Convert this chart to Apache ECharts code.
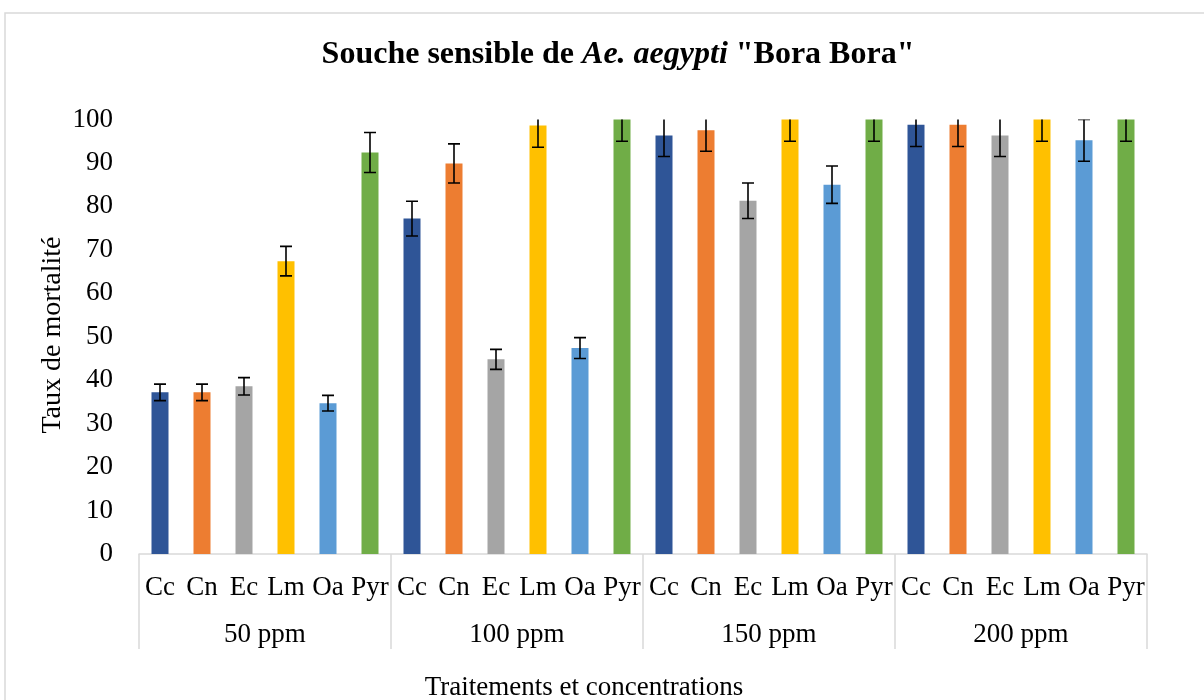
<!DOCTYPE html>
<html>
<head>
<meta charset="utf-8">
<script src="https://cdn.jsdelivr.net/npm/echarts@6/dist/echarts.min.js"></script>
<style>html,body{margin:0;padding:0;background:#fff}#chart{width:1204px;height:700px}</style>
</head>
<body>
<div id="chart"></div>
<script>
var treatments = ['Cc', 'Cn', 'Ec', 'Lm', 'Oa', 'Pyr'];
var concentrations = ['50 ppm', '100 ppm', '150 ppm', '200 ppm'];
var yTicks = [0, 10, 20, 30, 40, 50, 60, 70, 80, 90, 100];
// mean mortality per treatment across the 4 concentrations
var valCc  = [37.2, 77.2, 96.3, 98.8];
var valCn  = [37.2, 89.9, 97.5, 98.8];
var valEc  = [38.6, 44.8, 81.3, 96.3];
var valLm  = [67.4, 98.6, 100, 100];
var valOa  = [34.7, 47.4, 85.0, 95.2];
var valPyr = [92.4, 100, 100, 100];
// error (± value)
var errCc  = [1.9, 4.0, 4.8, 5.0];
var errCn  = [1.9, 4.5, 4.8, 5.0];
var errEc  = [2.0, 2.3, 4.1, 4.8];
var errLm  = [3.4, 5.0, 5.0, 5.0];
var errOa  = [1.8, 2.4, 4.3, 4.8];
var errPyr = [4.6, 5.0, 5.0, 5.0];

var colors = ['#2F5597', '#ED7D31', '#A5A5A5', '#FFC000', '#5B9BD5', '#70AD47'];
var vals = [valCc, valCn, valEc, valLm, valOa, valPyr];
var errs = [errCc, errCn, errEc, errLm, errOa, errPyr];

var cats = [], barData = [], errData = [];
concentrations.forEach(function (c, ci) {
  treatments.forEach(function (t, ti) {
    var idx = cats.length;
    cats.push(t);
    barData.push({ value: vals[ti][ci], itemStyle: { color: colors[ti] } });
    errData.push([idx, vals[ti][ci], errs[ti][ci]]);
  });
});

var FONT = '"Liberation Serif", "Times New Roman", serif';
var chart = echarts.init(document.getElementById('chart'), null, { renderer: 'canvas' });
chart.setOption({
  animation: false,
  backgroundColor: '#fff',
  title: {
    text: '{b|Souche sensible de }{i|Ae. aegypti}{b| "Bora Bora"}',
    left: 613, top: 34, textAlign: 'center',
    textStyle: {
      rich: {
        b: { fontFamily: FONT, fontWeight: 'bold', fontSize: 32, color: '#000' },
        i: { fontFamily: FONT, fontWeight: 'bold', fontStyle: 'italic', fontSize: 32, color: '#000' }
      }
    }
  },
  grid: { left: 139, right: 57, top: 119.5, bottom: 146, containLabel: false },
  xAxis: [{
    type: 'category', data: cats, position: 'bottom',
    axisLine: { show: true, lineStyle: { color: '#d9d9d9', width: 1.5 } },
    axisTick: { show: false },
    axisLabel: { interval: 0, margin: 20, fontFamily: FONT, fontSize: 27, color: '#000' }
  }, {
    type: 'category', data: concentrations, position: 'bottom',
    axisLine: { show: false },
    axisTick: { show: true, length: 95, interval: 0, lineStyle: { color: '#d9d9d9', width: 1.5 } },
    axisLabel: { interval: 0, margin: 67, fontFamily: FONT, fontSize: 27, color: '#000' }
  }],
  yAxis: {
    type: 'value', min: 0, max: 100, interval: 10,
    axisLine: { show: false }, axisTick: { show: false }, splitLine: { show: false },
    axisLabel: { margin: 26, fontFamily: FONT, fontSize: 27, color: '#000',
      formatter: function (v) { return yTicks.indexOf(v) >= 0 ? String(v) : ''; } }
  },
  graphic: [
    { type: 'rect', shape: { x: 5, y: 13, width: 1400, height: 900 }, style: { fill: 'none', stroke: '#d9d9d9', lineWidth: 1.5 }, silent: true },
    { type: 'text', x: 53, y: 335, rotation: Math.PI / 2, style: { text: 'Taux de mortalité', font: '28px ' + FONT, fill: '#000', textAlign: 'center', textVerticalAlign: 'middle' } },
    { type: 'text', x: 584, y: 688, style: { text: 'Traitements et concentrations', font: '27px ' + FONT, fill: '#000', textAlign: 'center', textVerticalAlign: 'middle' } }
  ],
  series: [{
    type: 'bar', data: barData, barWidth: 17, xAxisIndex: 0
  }, {
    type: 'custom', data: errData, xAxisIndex: 0, clip: true, z: 5,
    renderItem: function (params, api) {
      var x = api.value(0), v = api.value(1), e = api.value(2);
      var top = api.coord([x, v + e]);
      var bot = api.coord([x, v - e]);
      var hw = 6;
      var st = { stroke: '#000', lineWidth: 1.6 };
      return { type: 'group', children: [
        { type: 'line', shape: { x1: top[0], y1: top[1], x2: bot[0], y2: bot[1] }, style: st },
        { type: 'line', shape: { x1: top[0] - hw, y1: top[1], x2: top[0] + hw, y2: top[1] }, style: st },
        { type: 'line', shape: { x1: bot[0] - hw, y1: bot[1], x2: bot[0] + hw, y2: bot[1] }, style: st }
      ] };
    }
  }]
});
</script>
</body>
</html>
